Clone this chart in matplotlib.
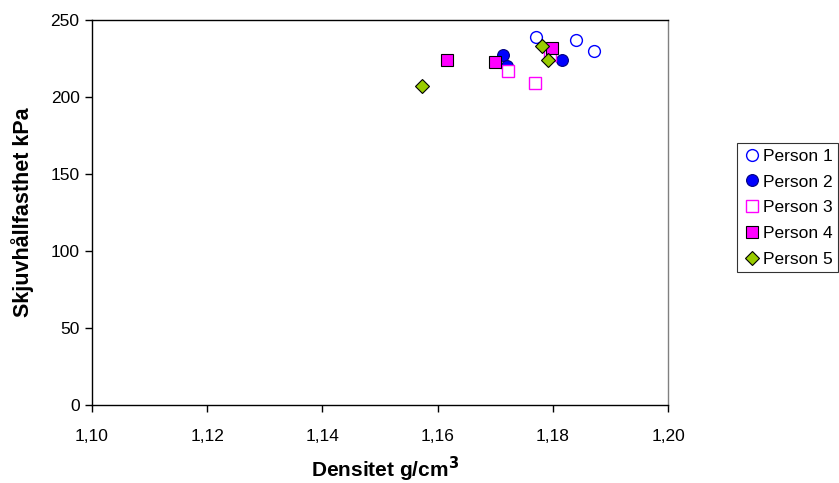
import matplotlib
matplotlib.use('Agg')
import matplotlib.pyplot as plt
from matplotlib.ticker import FuncFormatter

plt.rcParams['font.family'] = ['Liberation Sans', 'DejaVu Sans']

# density (g/cm3) and shear strength (kPa) per person
p1_x = [1.1770, 1.1840, 1.1871]
p1_y = [239, 237, 230]
p2_x = [1.1713, 1.1720, 1.1816]
p2_y = [227, 220, 224]
p3_x = [1.1723, 1.1769, 1.1795]
p3_y = [217, 209, 227]
p4_x = [1.1617, 1.1699, 1.1798]
p4_y = [224, 223, 232]
p5_x = [1.1573, 1.1782, 1.1791]
p5_y = [207, 233, 224]

x_ticks = [1.10, 1.12, 1.14, 1.16, 1.18, 1.20]
y_ticks = [0, 50, 100, 150, 200, 250]

fig = plt.figure(figsize=(8.39, 4.83), dpi=100)
ax = fig.add_axes([0.1097, 0.1615, 0.6865, 0.797])

ax.plot(p1_x, p1_y, 'o', ls='none', ms=8.5, mfc='white', mec='#0000ff', mew=1.0, label='Person 1')
ax.plot(p2_x, p2_y, 'o', ls='none', ms=8.5, mfc='#0000ff', mec='#000080', mew=0.8, label='Person 2')
ax.plot(p3_x, p3_y, 's', ls='none', ms=8, mfc='white', mec='#ff00ff', mew=1.0, label='Person 3')
ax.plot(p4_x, p4_y, 's', ls='none', ms=8, mfc='#ff00ff', mec='#000000', mew=0.8, label='Person 4')
ax.plot(p5_x, p5_y, 'D', ls='none', ms=7, mfc='#99cc00', mec='#000000', mew=0.8, label='Person 5')

ax.set_xlim(1.10, 1.20)
ax.set_ylim(0, 250)
ax.set_xticks(x_ticks)
ax.set_yticks(y_ticks)
ax.xaxis.set_major_formatter(FuncFormatter(lambda v, p: f'{v:.2f}'.replace('.', ',')))
ax.tick_params(direction='out', length=5, width=1, labelsize=12.5)
ax.tick_params(axis='x', pad=12)
ax.tick_params(axis='y', pad=4)
for s in ax.spines.values():
    s.set_linewidth(1)
ax.spines['right'].set_color('#808080')

ax.set_xlabel('Densitet g/cm$^\\mathbf{3}$', fontsize=15, fontweight='bold')
ax.xaxis.set_label_coords(0.509, -0.13)
ax.set_ylabel('Skjuvhållfasthet kPa', fontsize=15.5, fontweight='bold', labelpad=12)

leg = ax.legend(loc='upper left', bbox_to_anchor=(1.12, 0.68), frameon=True, fancybox=False,
                edgecolor='black', fontsize=12.5, handletextpad=0.1, handlelength=1.1,
                borderpad=0.3, labelspacing=0.62, borderaxespad=0)
leg.get_frame().set_linewidth(0.8)

fig.savefig('out.png', dpi=100)
